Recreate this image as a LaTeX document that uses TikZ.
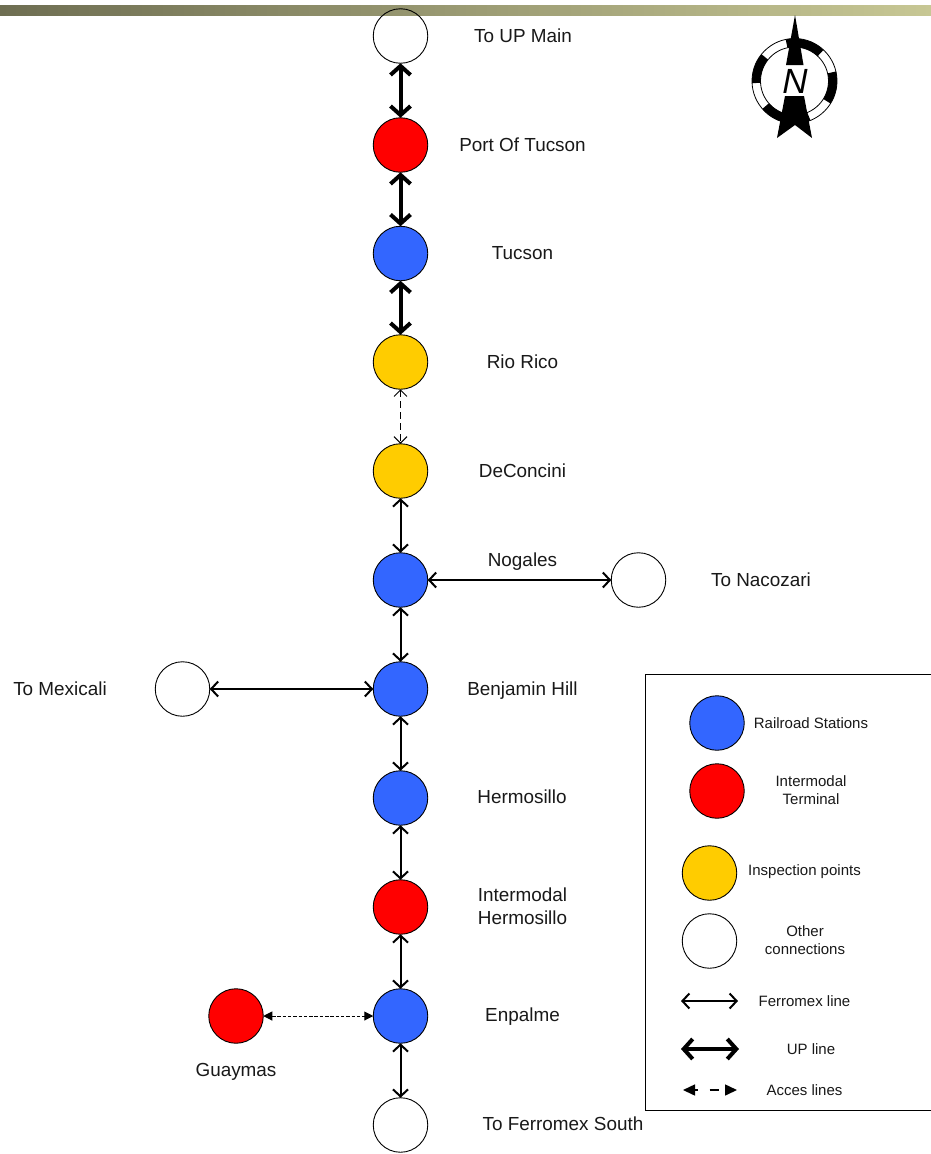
\documentclass[tikz,border=0pt]{standalone}
\usepackage{fontspec}
\setmainfont{Liberation Sans}
\usetikzlibrary{arrows.meta}
\definecolor{stn}{HTML}{3366FF}
\definecolor{itm}{HTML}{FF0000}
\definecolor{ins}{HTML}{FFCC00}
\tikzset{
  every node/.style={outer sep=0pt},
  stop/.style={circle,draw=black,line width=0.9pt,minimum size=54.5pt,inner sep=0pt},
  keystop/.style={stop},
  lbl/.style={font=\fontsize{18.9}{23}\selectfont,align=center,text=black!90,text height=17.5pt,text depth=4pt},
  lblm/.style={font=\fontsize{18.9}{23}\selectfont,align=center,text=black!90},
  keylbl/.style={font=\fontsize{15}{18}\selectfont,align=center,text=black!90},
  ferro/.style={line width=2pt,{Straight Barb[length=7pt,width=15pt]}-{Straight Barb[length=7pt,width=15pt]}},
  upl/.style={line width=4pt,{Straight Barb[length=9pt,width=20pt]}-{Straight Barb[length=9pt,width=20pt]}},
  acc/.style={line width=1pt,dash pattern=on 7pt off 4pt,{Straight Barb[length=6.5pt,width=13pt]}-{Straight Barb[length=6.5pt,width=13pt]}},
  accf/.style={line width=1pt,dash pattern=on 3.5pt off 1.8pt,{Stealth[length=9pt,width=9pt,inset=0pt]}-{Stealth[length=9pt,width=9pt,inset=0pt]}},
  accl/.style={line width=1.5pt,dash pattern=on 3pt off 12pt on 9pt off 8pt,{Stealth[length=12pt,width=11pt,inset=0pt]}-{Stealth[length=12pt,width=11pt,inset=0pt]}},
}
\begin{document}
\begin{tikzpicture}[x=1pt,y=-1pt]
\useasboundingbox (0,0) rectangle (931,1154);
\fill[white] (0,0) rectangle (931,1154);
\shade[shading=axis,left color={rgb,255:red,110;green,110;blue,82},right color={rgb,255:red,199;green,199;blue,148}] (0,5) rectangle (931,15);
% line nodes
\node[stop] (a) at (400.5,36) {};
\node[stop,fill=itm] (b) at (400.5,145) {};
\node[stop,fill=stn] (c) at (400.5,253.5) {};
\node[stop,fill=ins] (d) at (400.5,362) {};
\node[stop,fill=ins] (e) at (400.5,471) {};
\node[stop,fill=stn] (f) at (400.5,580) {};
\node[stop,fill=stn] (g) at (400.5,689) {};
\node[stop,fill=stn] (h) at (400.5,798) {};
\node[stop,fill=itm] (i) at (400.5,907) {};
\node[stop,fill=stn] (j) at (400.5,1016) {};
\node[stop] (k) at (400.5,1125) {};
\node[stop] (nac) at (638.5,580) {};
\node[stop] (mex) at (182.5,689) {};
\node[stop,fill=itm] (guay) at (236,1016) {};
% connectors
\draw[upl] (a) -- (b);
\draw[upl] (b) -- (c);
\draw[upl] (c) -- (d);
\draw[acc] (d) -- (e);
\draw[ferro] (e) -- (f);
\draw[ferro] (f) -- (g);
\draw[ferro] (g) -- (h);
\draw[ferro] (h) -- (i);
\draw[ferro] (i) -- (j);
\draw[ferro] (j) -- (k);
\draw[ferro] (f) -- (nac);
\draw[ferro] (mex) -- (g);
\draw[accf] (guay) -- (j);
% labels
\node[lbl] (la) at (523,36) {To UP Main};
\node[lbl] (lb) at (522.5,145) {Port Of Tucson};
\node[lbl] (lc) at (522.5,253) {Tucson};
\node[lbl] (ld) at (522.5,362) {Rio Rico};
\node[lbl] (le) at (522.5,471) {DeConcini};
\node[lbl] (lf) at (522.5,560) {Nogales};
\node[lbl] (lnac) at (761,580) {To Nacozari};
\node[lbl] (lmex) at (60,689) {To Mexicali};
\node[lbl] (lg) at (522.5,689) {Benjamin Hill};
\node[lbl] (lh) at (522,797) {Hermosillo};
\node[lblm] (li) at (522.5,906) {Intermodal\\Hermosillo};
\node[lbl] (lj) at (522.5,1015) {Enpalme};
\node[lbl] (lguay) at (236,1070) {Guaymas};
\node[lbl] (lk) at (563,1124) {To Ferromex South};
% legend
\draw[line width=1pt] (645,674) -- (931,674);
\draw[line width=1pt] (645,674) -- (645,1110) -- (931,1110);
\node[keystop,fill=stn] (k1) at (717,723) {};
\node[keystop,fill=itm] (k2) at (717,791) {};
\node[keystop,fill=ins] (k3) at (709.5,873) {};
\node[keystop] (k4) at (709.5,941) {};
\node[keylbl] (t1) at (811,723) {Railroad Stations};
\node[keylbl] (t2) at (811,790) {Intermodal\\Terminal};
\node[keylbl] (t3) at (804.5,872) {Inspection points};
\node[keylbl] (t4) at (805,940) {Other\\connections};
\node[keylbl] (t5) at (804.5,1001) {Ferromex line};
\node[keylbl] (t6) at (811,1049) {UP line};
\node[keylbl] (t7) at (804.5,1090) {Acces lines};
\coordinate (f1) at (681,1001); \coordinate (f2) at (738,1001);
\coordinate (u1) at (681,1049); \coordinate (u2) at (739,1049);
\coordinate (c1) at (683,1090); \coordinate (c2) at (737,1090);
\draw[ferro] (f1) -- (f2);
\draw[upl] (u1) -- (u2);
\draw[accl] (c1) -- (c2);
% compass
\begin{scope}[shift={(794.5,81)}]
  \draw[line width=0.8pt] (0,0) circle (42.5);
  \draw[line width=0.8pt] (0,0) circle (34);
  \foreach \p/\q in {47/102,141/183,221/292,328/373}{
    \fill[black] ({42.5*cos(\p)},{-42.5*sin(\p)}) arc[start angle=-\p,end angle=-\q,radius=42.5]
      -- ({34*cos(\q)},{-34*sin(\q)}) arc[start angle=-\q,end angle=-\p,radius=34] -- cycle;
  }
  \fill[black] (0.5,-66) -- (9,-16) -- (-8.5,-16) -- cycle;
  \fill[black] (-9.5,15) -- (9.5,15) -- (17.5,57) -- (0.5,44) -- (-17.5,57) -- cycle;
  \node[font=\itshape\fontsize{35}{35}\selectfont] (north) at (0.5,0) {N};
\end{scope}
\end{tikzpicture}
\end{document}
